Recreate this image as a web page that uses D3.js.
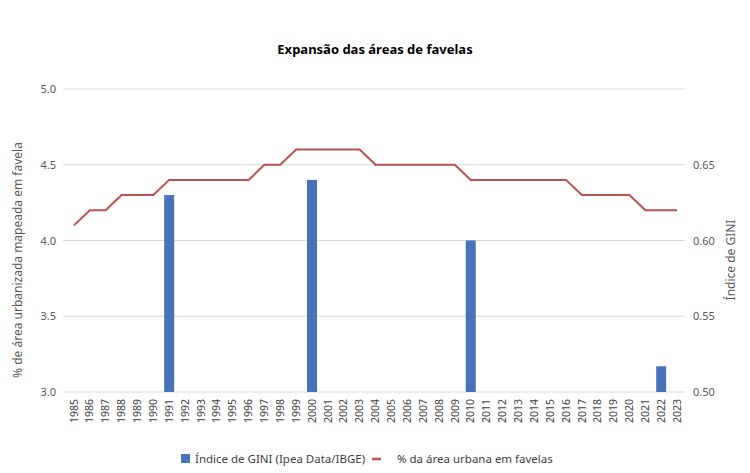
<!DOCTYPE html>
<html><head><meta charset="utf-8">
<script src="https://cdn.jsdelivr.net/npm/d3@7/dist/d3.min.js"></script>
<style>body{margin:0;background:#fff}svg{display:block}text{font-family:"Noto Sans",sans-serif}</style>
</head><body><svg id="c" width="750" height="473"></svg>
<script>
const years = d3.range(1985, 2024).map(String);
const favelaPct = [4.1,4.2,4.2,4.3,4.3,4.3,4.4,4.4,4.4,4.4,4.4,4.4,4.5,4.5,4.6,4.6,4.6,4.6,4.6,4.5,4.5,4.5,4.5,4.5,4.5,4.4,4.4,4.4,4.4,4.4,4.4,4.4,4.3,4.3,4.3,4.3,4.2,4.2,4.2];
const giniYears = ["1991","2000","2010","2022"];
const giniValues = [0.63,0.64,0.60,0.517];
const leftTicks = [3.0,3.5,4.0,4.5,5.0];
const rightTicks = [0.50,0.55,0.60,0.65];

const svg = d3.select("#c");
const L = 66, R = 685, T = 89, B = 392;
const x = d3.scaleBand().domain(years).range([L, R]).paddingInner(0.37).paddingOuter(0.185);
const xp = d3.scalePoint().domain(years).range([L + x.step()/2, R - x.step()/2]);
const yL = d3.scaleLinear().domain([3.0, 5.0]).range([B, T]);
const yR = d3.scaleLinear().domain([0.50, 0.70]).range([B, T]);

// gridlines
svg.append("g").selectAll("line").data(leftTicks).join("line")
  .attr("x1", 63).attr("x2", R).attr("y1", d => yL(d)).attr("y2", d => yL(d))
  .attr("stroke", "#d9d9d9").attr("stroke-width", 1);

// left axis
const gl = svg.append("g").attr("transform", `translate(${L},0)`)
  .call(d3.axisLeft(yL).tickValues(leftTicks).tickFormat(d3.format(".1f")).tickSize(0).tickPadding(10));
gl.select(".domain").remove();
gl.selectAll("text").attr("fill", "#595959").style("font-size", "11px");

// right axis
const gr = svg.append("g").attr("transform", `translate(${R},0)`)
  .call(d3.axisRight(yR).tickValues(rightTicks).tickFormat(d3.format(".2f")).tickSize(0).tickPadding(8));
gr.select(".domain").remove();
gr.selectAll("text").attr("fill", "#595959").style("font-size", "11px");

// x axis
const gx = svg.append("g").attr("transform", `translate(0,${B})`)
  .call(d3.axisBottom(x).tickSize(0).tickPadding(0));
gx.select(".domain").remove();
gx.selectAll("text").attr("fill", "#404040").style("font-size", "10.5px")
  .attr("transform", "rotate(-90)").attr("text-anchor", "end")
  .attr("x", -7).attr("y", 0).attr("dy", "0.35em").attr("dx", 0);

// bars
svg.append("g").selectAll("rect").data(giniYears.map((y,i)=>({y, v: giniValues[i]}))).join("rect")
  .attr("x", d => x(d.y)).attr("width", x.bandwidth())
  .attr("y", d => yR(d.v)).attr("height", d => B - yR(d.v))
  .attr("fill", "#4A72B8");

// line
svg.append("path").datum(years.map((y,i)=>({y, v: favelaPct[i]})))
  .attr("fill", "none").attr("stroke", "#C0504D").attr("stroke-width", 2)
  .attr("d", d3.line().x(d => xp(d.y)).y(d => yL(d.v)));

// title
svg.append("text").attr("x", 375).attr("y", 54).attr("text-anchor", "middle")
  .style("font-size", "13px").style("font-weight", "bold").attr("fill", "#000")
  .text("Expansão das áreas de favelas");

// axis titles
svg.append("text").attr("transform", "translate(22,260) rotate(-90)").attr("text-anchor", "middle")
  .style("font-size", "12px").attr("fill", "#595959").text("% de área urbanizada mapeada em favela");
svg.append("text").attr("transform", "translate(735,260) rotate(-90)").attr("text-anchor", "middle")
  .style("font-size", "12px").attr("fill", "#595959").text("Índice de GINI");

// legend
const lg = svg.append("g");
lg.append("rect").attr("x", 181).attr("y", 454).attr("width", 9).attr("height", 9).attr("fill", "#4A72B8");
lg.append("text").attr("x", 195).attr("y", 462.5).style("font-size", "11.5px").attr("fill", "#404040").text("Índice de GINI (Ipea Data/IBGE)");
lg.append("line").attr("x1", 372).attr("x2", 381).attr("y1", 459).attr("y2", 459).attr("stroke", "#C0504D").attr("stroke-width", 2.5);
lg.append("text").attr("x", 397).attr("y", 462.5).style("font-size", "11.5px").attr("fill", "#404040").text("% da área urbana em favelas");
</script></body></html>
